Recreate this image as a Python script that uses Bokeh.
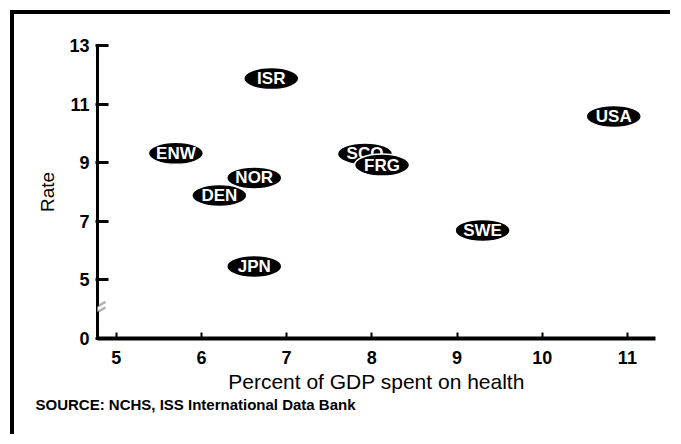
from bokeh.plotting import figure
from bokeh.models import FixedTicker, PolyAnnotation, Title, Range1d, ColumnDataSource
from bokeh.core.properties import value
from bokeh.embed import file_html
from bokeh.resources import INLINE

# ---- data ----
countries = ["ISR", "USA", "ENW", "SCO", "FRG", "NOR", "DEN", "SWE", "JPN"]
gdp_pct = [6.82, 10.84, 5.70, 7.92, 8.12, 6.62, 6.21, 9.30, 6.62]
rate = [11.87, 10.58, 9.32, 9.30, 8.92, 8.48, 7.88, 6.69, 5.46]

x_ticks = [5, 6, 7, 8, 9, 10, 11]
y_ticks = [5, 7, 9, 11, 13]
y_floor = 3          # position of the broken axis' origin
y_floor_label = "0"  # label shown there
y_break = 4.0        # where the axis break marks sit
x_start, x_end = 4.78, 11.33
y_end = 13

FONT = "Liberation Sans"
W, H = 660, 424
BL, BR, BT, BB = 83, 19, 31, 100
FW, FH = W - BL - BR, H - BT - BB

p = figure(width=W, height=H, output_backend="svg", toolbar_location=None,
           x_range=Range1d(x_start, x_end), y_range=Range1d(y_floor, y_end),
           min_border_left=BL, min_border_right=BR, min_border_top=BT,
           min_border_bottom=BB)
p.styles = {"border-top": "4px solid black", "border-left": "4px solid black",
            "margin-top": "10px", "margin-left": "10px"}
p.xgrid.visible = False
p.ygrid.visible = False
p.outline_line_color = None
p.background_fill_color = "white"
p.border_fill_color = "white"

# x axis
xa = p.xaxis[0]
xa.ticker = FixedTicker(ticks=x_ticks)
xa.axis_line_width = 4
xa.axis_line_color = "black"
xa.major_tick_in = 6
xa.major_tick_out = 0
xa.major_tick_line_width = 2
xa.minor_tick_line_color = None
xa.major_label_text_font = FONT
xa.major_label_text_font_size = "18px"
xa.major_label_text_font_style = "bold"
xa.major_label_text_color = "black"
xa.major_label_standoff = 12
xa.axis_label = "Percent of GDP spent on health"
xa.axis_label_text_font = FONT
xa.axis_label_text_font_size = "21px"
xa.axis_label_text_font_style = "normal"
xa.axis_label_text_color = "black"
xa.axis_label_standoff = 3

# y axis
ya = p.yaxis[0]
ya.ticker = FixedTicker(ticks=[y_floor] + y_ticks)
ya.major_label_overrides = {y_floor: y_floor_label}
ya.axis_line_width = 3
ya.axis_line_color = "black"
ya.major_tick_in = 11
ya.major_tick_out = 2
ya.major_tick_line_width = 3
ya.minor_tick_line_color = None
ya.major_label_text_font = FONT
ya.major_label_text_font_size = "18px"
ya.major_label_text_font_style = "bold"
ya.major_label_text_color = "black"
ya.major_label_standoff = 6
ya.axis_label = "Rate"
ya.axis_label_text_font = FONT
ya.axis_label_text_font_size = "19px"
ya.axis_label_text_font_style = "normal"
ya.axis_label_text_color = "black"
ya.axis_label_standoff = 8

# ellipse markers with labels (drawn one by one so overlaps stack correctly)
for c, gx, ry in zip(countries, gdp_pct, rate):
    src = ColumnDataSource(dict(x=[gx], y=[ry], t=[c]))
    p.ellipse("x", "y", width=55, height=22, width_units="screen",
              height_units="screen", fill_color="black", line_color="white",
              line_width=1.5, source=src)
    p.text("x", "y", text="t", source=src, text_align="center",
           text_baseline="middle", text_color="white", text_font=value(FONT),
           text_font_size="17px", text_font_style="bold")

# axis break marks
px_x = (x_end - x_start) / FW
px_y = (y_end - y_floor) / FH


def pt(dx, dy):
    return x_start + dx * px_x, y_break + dy * px_y


cover = [pt(-4, -5.0), pt(4, -0.4), pt(4, 5.0), pt(-4, 0.4)]
p.add_layout(PolyAnnotation(xs=[a for a, b in cover], ys=[b for a, b in cover],
                            fill_color="white", fill_alpha=1, line_color=None,
                            level="overlay"))
for off in (-2.8, 2.8):
    a = pt(-8, off - 4.5)
    b = pt(8, off + 4.5)
    p.add_layout(PolyAnnotation(xs=[a[0], b[0]], ys=[a[1], b[1]],
                                fill_alpha=0, line_color="black", line_width=2.5,
                                level="overlay"))

# source note
p.add_layout(Title(text="SOURCE: NCHS, ISS International Data Bank", align="left",
                   text_font=FONT, text_font_size="15px", text_font_style="bold",
                   text_color="black", offset=-62, standoff=-3), "below")

open("out.html", "w").write(file_html(p, INLINE))
